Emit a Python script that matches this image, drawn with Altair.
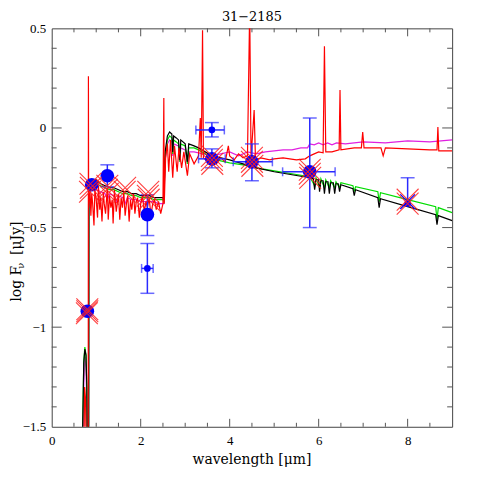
import altair as alt
import pandas as pd

TITLE = "31\u22122185"
X_TITLE = "wavelength [\u03bcm]"

# ---- model SEDs ----
black_x = [0.68,0.70,0.72,0.745,0.77,0.79,0.80,0.83,0.835,0.90,1.00,1.10,1.20,1.30,1.40,1.50,1.60,1.70,1.80,1.90,2.00,2.10,2.20,2.30,2.40,2.50,2.52,2.55,2.60,2.65,2.70,2.72,2.74,2.80,2.85,2.88,2.90,3.00,3.05,3.08,3.20,3.30,3.45,3.60,3.80,4.00,4.30,4.60,5.00,5.40,5.80,5.88,5.91,5.94,6.00,6.02,6.05,6.10,6.13,6.16,6.21,6.24,6.27,6.33,6.36,6.39,6.44,6.47,6.50,6.77,6.80,6.83,7.33,7.36,7.39,8.00,8.63,8.66,8.69,9.00]
black_y = [-1.70,-1.45,-1.18,-1.11,-1.14,-1.30,-1.70,-1.70,-0.27,-0.27,-0.26,-0.28,-0.29,-0.30,-0.30,-0.31,-0.32,-0.32,-0.33,-0.33,-0.34,-0.34,-0.34,-0.35,-0.35,-0.35,-0.36,-0.12,-0.04,-0.02,-0.03,-0.12,-0.04,-0.05,-0.06,-0.16,-0.06,-0.08,-0.17,-0.08,-0.09,-0.10,-0.12,-0.14,-0.15,-0.16,-0.18,-0.20,-0.22,-0.235,-0.25,-0.255,-0.31,-0.26,-0.26,-0.32,-0.265,-0.265,-0.33,-0.27,-0.27,-0.33,-0.275,-0.275,-0.33,-0.28,-0.28,-0.32,-0.285,-0.305,-0.34,-0.31,-0.35,-0.40,-0.355,-0.395,-0.435,-0.485,-0.44,-0.465]

green_x = [0.68,0.70,0.72,0.745,0.77,0.79,0.80,0.83,0.835,0.90,1.00,1.10,1.20,1.30,1.40,1.50,1.60,1.70,1.80,1.90,2.00,2.10,2.20,2.30,2.40,2.50,2.52,2.55,2.60,2.65,2.70,2.72,2.74,2.80,2.85,2.88,2.90,3.00,3.05,3.08,3.20,3.30,3.45,3.60,3.80,4.00,4.30,4.60,5.00,5.40,5.80,5.91,5.94,6.02,6.05,6.13,6.16,6.24,6.27,6.36,6.39,6.47,6.50,6.77,6.80,6.83,7.33,7.36,7.39,8.00,8.63,8.66,8.69,9.00]
green_y = [-1.70,-1.45,-1.17,-1.10,-1.14,-1.32,-1.70,-1.70,-0.29,-0.29,-0.28,-0.29,-0.30,-0.31,-0.31,-0.32,-0.33,-0.33,-0.34,-0.34,-0.35,-0.35,-0.35,-0.36,-0.36,-0.36,-0.37,-0.14,-0.06,-0.04,-0.05,-0.13,-0.06,-0.07,-0.08,-0.17,-0.08,-0.09,-0.18,-0.10,-0.10,-0.11,-0.13,-0.155,-0.165,-0.175,-0.185,-0.20,-0.215,-0.23,-0.245,-0.29,-0.25,-0.30,-0.255,-0.30,-0.26,-0.30,-0.265,-0.30,-0.27,-0.30,-0.275,-0.29,-0.32,-0.295,-0.32,-0.37,-0.325,-0.36,-0.395,-0.46,-0.40,-0.425]

magenta_x = [0.70,0.72,0.745,0.77,0.79,0.80,0.83,0.835,0.90,1.00,1.10,1.20,1.25,1.30,1.40,1.45,1.50,1.60,1.65,1.70,1.80,1.90,2.00,2.10,2.20,2.30,2.40,2.50,2.52,2.55,2.60,2.65,2.70,2.72,2.74,2.85,2.88,2.90,3.00,3.05,3.08,3.20,3.40,3.60,3.80,4.00,4.20,4.40,4.60,4.80,5.00,5.20,5.40,5.60,5.75,5.80,5.90,6.00,6.10,6.20,6.30,6.40,6.60,7.00,7.50,8.00,8.50,9.00]
magenta_y = [-1.70,-1.30,-1.15,-1.20,-1.40,-1.70,-1.70,-0.31,-0.31,-0.31,-0.32,-0.33,-0.36,-0.33,-0.34,-0.37,-0.34,-0.35,-0.38,-0.35,-0.36,-0.36,-0.37,-0.37,-0.37,-0.37,-0.38,-0.38,-0.38,-0.16,-0.08,-0.06,-0.07,-0.14,-0.08,-0.09,-0.17,-0.10,-0.11,-0.18,-0.12,-0.12,-0.13,-0.14,-0.13,-0.12,-0.14,-0.12,-0.13,-0.12,-0.115,-0.11,-0.11,-0.10,-0.10,-0.08,-0.085,-0.075,-0.085,-0.075,-0.085,-0.075,-0.08,-0.07,-0.075,-0.065,-0.07,-0.06]

red_x = [0.72,0.74,0.76,0.78,0.82,0.825,0.83,0.86,0.88,0.90,0.92,0.95,0.97,1.00,1.03,1.05,1.08,1.10,1.13,1.16,1.18,1.21,1.25,1.27,1.30,1.33,1.36,1.38,1.41,1.45,1.48,1.50,1.53,1.56,1.59,1.62,1.65,1.68,1.71,1.74,1.77,1.80,1.84,1.87,1.90,1.93,1.97,2.00,2.04,2.08,2.12,2.15,2.19,2.23,2.27,2.31,2.35,2.40,2.45,2.50,2.52,2.53,2.56,2.60,2.63,2.67,2.72,2.76,2.82,2.86,2.92,2.97,3.05,3.10,3.20,3.30,3.34,3.36,3.38,3.39,3.41,3.50,3.60,3.70,3.80,3.90,3.97,4.00,4.10,4.20,4.30,4.40,4.45,4.48,4.55,4.58,4.70,4.90,5.00,5.20,5.50,5.70,5.80,5.90,6.00,6.10,6.13,6.16,6.30,6.46,6.48,6.50,6.80,6.96,6.99,7.02,7.40,7.45,7.50,8.00,8.50,8.66,8.68,8.70,9.00]
red_y = [-1.70,-1.30,-1.36,-1.70,-1.70,0.26,-0.40,-0.30,-0.44,-0.33,-0.38,-0.49,-0.31,-0.36,-0.45,-0.29,-0.41,-0.35,-0.47,-0.32,-0.38,-0.43,-0.30,-0.46,-0.34,-0.40,-0.36,-0.48,-0.31,-0.42,-0.37,-0.33,-0.46,-0.35,-0.40,-0.32,-0.44,-0.38,-0.34,-0.47,-0.36,-0.41,-0.33,-0.43,-0.37,-0.35,-0.45,-0.38,-0.34,-0.42,-0.37,-0.40,-0.35,-0.44,-0.38,-0.36,-0.41,-0.37,-0.43,-0.38,0.15,-0.38,-0.15,-0.08,-0.22,-0.06,-0.25,-0.09,-0.22,-0.10,-0.20,-0.12,-0.24,-0.13,-0.18,-0.14,0.05,-0.15,0.25,0.49,-0.15,-0.17,-0.16,-0.18,-0.15,-0.17,-0.09,-0.14,-0.16,-0.13,-0.15,-0.14,0.60,-0.15,0.09,-0.16,-0.15,-0.16,-0.155,-0.15,-0.16,-0.155,-0.14,-0.13,-0.12,-0.125,0.41,-0.12,-0.12,-0.11,0.19,-0.11,-0.10,-0.10,-0.02,-0.10,-0.10,-0.14,-0.10,-0.105,-0.11,-0.11,0.005,-0.115,-0.115]

SERIES = [("magenta", magenta_x, magenta_y, "#e020e0"),
          ("green", green_x, green_y, "#00dd00"),
          ("black", black_x, black_y, "#000000"),
          ("red", red_x, red_y, "#ff0000")]

# ---- observed photometry ----
big_x = [0.80, 0.90, 1.25, 2.15, 3.60, 4.50, 5.80]
big_y = [-0.92, -0.285, -0.24, -0.435, -0.155, -0.17, -0.22]
small_x = [2.15, 3.60, 8.00]
small_y = [-0.705, -0.01, -0.38]

yerr_x = [1.25, 2.15, 2.15, 3.60, 3.60, 4.50, 5.80, 8.00]
yerr_lo = [-0.295, -0.54, -0.83, -0.045, -0.20, -0.265, -0.50, -0.38]
yerr_hi = [-0.185, -0.335, -0.58, 0.027, -0.105, -0.08, 0.05, -0.25]
ylo_cap = [True, True, True, True, True, True, True, False]

xerr_y = [-0.705, -0.01, -0.155, -0.17, -0.22]
xerr_lo = [2.02, 3.24, 3.30, 4.08, 5.19]
xerr_hi = [2.28, 3.88, 3.90, 4.96, 6.37]

# ---- model band fluxes (crosses) ----
cross_x = [0.80,0.80,0.79, 0.87,0.88,0.86, 1.25,1.24,1.26, 1.65,1.64, 2.17,2.16,2.18, 3.60,3.60,3.61, 4.50,4.50,4.51, 5.80,5.80,5.81, 8.00,8.00]
cross_y = [-0.92,-0.91,-0.93, -0.28,-0.30,-0.32, -0.29,-0.31,-0.33, -0.30,-0.32, -0.32,-0.34,-0.36, -0.14,-0.16,-0.18, -0.15,-0.17,-0.19, -0.21,-0.23,-0.25, -0.36,-0.38]
bluecross_x = [8.00]
bluecross_y = [-0.37]

# ---- axis ticks ----
x_labels = [0, 2, 4, 6, 8]
y_labels = [-1.5, -1, -0.5, 0, 0.5]
x_major = [2, 4, 6, 8]
x_minor = [0.5, 1, 1.5, 2.5, 3, 3.5, 4.5, 5, 5.5, 6.5, 7, 7.5, 8.5]
y_major = [-1, -0.5, 0]
y_minor = [-1.4, -1.3, -1.2, -1.1, -0.9, -0.8, -0.7, -0.6, -0.4, -0.3, -0.2, -0.1, 0.1, 0.2, 0.3, 0.4]

W, H = 403, 401
xs = alt.Scale(domain=[0, 9], nice=False, zero=False)
ys = alt.Scale(domain=[-1.5, 0.5], nice=False, zero=False)
LBL = "Liberation Serif"
TTL = "DejaVu Serif"
xaxis = alt.Axis(values=x_labels, format="~g", ticks=False, domain=False, grid=False, labelFont=LBL,
                 labelFontSize=13, labelColor="black", labelPadding=8, title=None, labelFlush=False)
yaxis = alt.Axis(values=y_labels, format="~g", ticks=False, domain=False, grid=False, labelFont=LBL,
                 labelFontSize=13, labelColor="black", labelPadding=6, title=None)


def X(f):
    return alt.X(f, type="quantitative", scale=xs, axis=xaxis)


def Y(f):
    return alt.Y(f, type="quantitative", scale=ys, axis=yaxis)


layers = []
for name, sx, sy, col in SERIES:
    df = pd.DataFrame({"x": sx, "y": sy, "i": list(range(len(sx)))})
    layers.append(alt.Chart(df).mark_line(color=col, strokeWidth=1.2, clip=True)
                  .encode(x=X("x"), y=Y("y"), order="i:Q"))

BLUE = "#0000ff"
EBLUE = "#2a2aff"
ye = pd.DataFrame({"x": yerr_x, "lo": yerr_lo, "hi": yerr_hi})
layers.append(alt.Chart(ye).mark_rule(color=EBLUE, strokeWidth=1.5)
              .encode(x=X("x"), y=Y("lo"), y2="hi:Q"))
xe = pd.DataFrame({"y": xerr_y, "lo": xerr_lo, "hi": xerr_hi})
layers.append(alt.Chart(xe).mark_rule(color=EBLUE, strokeWidth=1.5)
              .encode(y=Y("y"), x=X("lo"), x2="hi:Q"))

ycaps = pd.DataFrame({
    "x": yerr_x + [x for x, c in zip(yerr_x, ylo_cap) if c],
    "y": yerr_hi + [y for y, c in zip(yerr_lo, ylo_cap) if c]})
layers.append(alt.Chart(ycaps).mark_tick(orient="horizontal", color=EBLUE, size=14, thickness=1.5)
              .encode(x=X("x"), y=Y("y")))
xcaps = pd.DataFrame({"x": xerr_lo + xerr_hi, "y": xerr_y + xerr_y})
layers.append(alt.Chart(xcaps).mark_tick(orient="vertical", color=EBLUE, size=9, thickness=1.5)
              .encode(x=X("x"), y=Y("y")))

layers.append(alt.Chart(pd.DataFrame({"x": big_x, "y": big_y}))
              .mark_circle(color=BLUE, size=190, opacity=1).encode(x=X("x"), y=Y("y")))
layers.append(alt.Chart(pd.DataFrame({"x": small_x, "y": small_y}))
              .mark_circle(color=BLUE, size=45, opacity=1).encode(x=X("x"), y=Y("y")))

XSHAPE = "M-1,-1L1,1M-1,1L1,-1"
layers.append(alt.Chart(pd.DataFrame({"x": bluecross_x, "y": bluecross_y}))
              .mark_point(shape=XSHAPE, size=220, filled=False, color=BLUE, strokeWidth=1.2, opacity=1)
              .encode(x=X("x"), y=Y("y")))
layers.append(alt.Chart(pd.DataFrame({"x": cross_x, "y": cross_y}))
              .mark_point(shape=XSHAPE, size=484, filled=False, color="#ff2020", strokeWidth=1.1, opacity=0.85)
              .encode(x=X("x"), y=Y("y")))

# inward frame ticks
TC = "#555555"
def xt(vals, y0, y1):
    return (alt.Chart(pd.DataFrame({"t": vals})).mark_rule(color=TC, strokeWidth=1)
            .encode(x=X("t"), y=alt.value(y0), y2=alt.value(y1)))
def yt(vals, x0, x1):
    return (alt.Chart(pd.DataFrame({"t": vals})).mark_rule(color=TC, strokeWidth=1)
            .encode(y=Y("t"), x=alt.value(x0), x2=alt.value(x1)))

layers += [xt(x_major, H, H - 8), xt(x_minor, H, H - 4), xt(x_major, 0, 8), xt(x_minor, 0, 4),
           yt(y_major, 0, 10), yt(y_minor, 0, 5), yt(y_major, W, W - 10), yt(y_minor, W, W - 5)]

# texts: title, x title and y title (with subscript nu)
def txt(t, x, y, size, angle=0, align="left"):
    return (alt.Chart(pd.DataFrame({"t": [t]}))
            .mark_text(angle=angle, align=align, baseline="middle", font=TTL, fontSize=size, color="black")
            .encode(text="t:N", x=alt.value(x), y=alt.value(y)))

layers += [txt("log F", -35, 275, 14, 270), txt("\u03bd", -31, 242, 10, 270),
           txt("[\u03bcJy]", -35, 228, 14, 270),
           txt(X_TITLE, W / 2, H + 33, 14, 0, "center"),
           txt(TITLE, W / 2, -11, 13, 0, "center")]

chart = alt.layer(*layers).properties(
    width=W, height=H,
    autosize=alt.AutoSizeParams(type="none"),
    padding={"left": 44, "top": 19, "right": 20, "bottom": 40},
).configure_view(stroke="#444444", strokeWidth=1)

chart.save("out.html", embed_options={"renderer": "svg", "actions": False})
